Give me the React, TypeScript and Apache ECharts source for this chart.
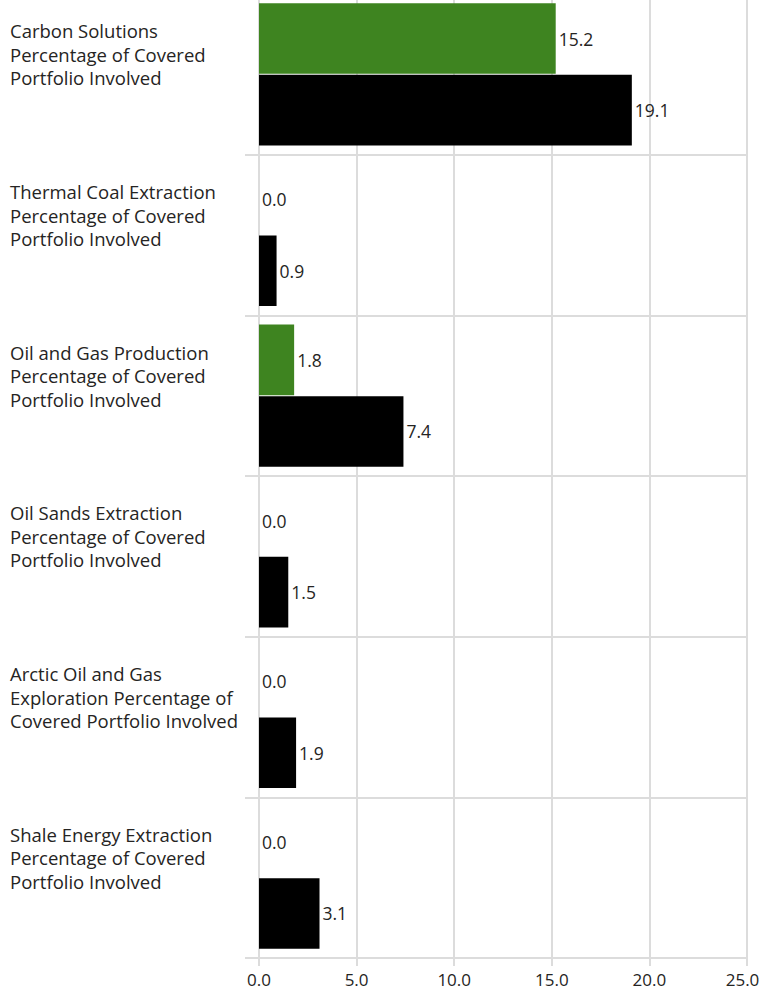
import React, { useEffect, useRef } from "react";
import * as echarts from "echarts";

const categories = [
  "Carbon Solutions\nPercentage of Covered\nPortfolio Involved",
  "Thermal Coal Extraction\nPercentage of Covered\nPortfolio Involved",
  "Oil and Gas Production\nPercentage of Covered\nPortfolio Involved",
  "Oil Sands Extraction\nPercentage of Covered\nPortfolio Involved",
  "Arctic Oil and Gas\nExploration Percentage of\nCovered Portfolio Involved",
  "Shale Energy Extraction\nPercentage of Covered\nPortfolio Involved",
];
const greenValues = [15.2, 0.0, 1.8, 0.0, 0.0, 0.0];
const blackValues = [19.1, 0.9, 7.4, 1.5, 1.9, 3.1];
const xMax = 25;

const FONT = "'Open Sans', 'Noto Sans', sans-serif";
const GRID = "#dcdcdc";
const TEXT = "#252423";

export default function App() {
  const ref = useRef<HTMLDivElement>(null);
  useEffect(() => {
    if (!ref.current) return;
    const chart = echarts.init(ref.current, null, { renderer: "svg" });
    const label = {
      show: true,
      position: "right" as const,
      distance: 3,
      color: TEXT,
      fontSize: 17.5,
      fontFamily: FONT,
      formatter: (p: any) => Number(p.value).toFixed(1),
    };
    chart.setOption({
      animation: false,
      grid: {
        left: 259,
        right: 14,
        top: 0,
        bottom: 35,
        containLabel: false,
        outerBoundsMode: "none",
      },
      xAxis: {
        type: "value",
        min: 0,
        max: xMax,
        interval: 5,
        axisLine: { show: false },
        axisTick: { show: true, length: 8, lineStyle: { color: GRID, width: 2 } },
        splitLine: { show: true, lineStyle: { color: GRID, width: 2 } },
        axisLabel: {
          color: TEXT,
          fontSize: 17,
          fontFamily: FONT,
          margin: 13,
          formatter: (v: number) =>
            v === xMax ? `{m|${v.toFixed(1)}}` : `{n|${v.toFixed(1)}}`,
          rich: {
            n: { fontSize: 17, fontFamily: FONT, color: TEXT },
            m: { fontSize: 17, fontFamily: FONT, color: TEXT, padding: [0, 9, 0, 0] },
          },
        },
      },
      yAxis: {
        type: "category",
        data: categories,
        inverse: true,
        axisLine: { show: true, lineStyle: { color: GRID, width: 2 } },
        axisTick: { show: true, length: 14, lineStyle: { color: GRID, width: 2 } },
        splitLine: { show: true, lineStyle: { color: GRID, width: 2 } },
        axisLabel: {
          align: "left",
          margin: 249,
          color: TEXT,
          fontFamily: FONT,
          formatter: (v: string) =>
            v
              .split("\n")
              .map((l) => `{t|${l}}`)
              .join("\n") + "\n{s|\u00a0}",
          rich: {
            t: { fontSize: 18.5, lineHeight: 23.5, color: TEXT, fontFamily: FONT },
            s: { fontSize: 10, lineHeight: 40, height: 40 },
          },
        },
      },
      series: [
        {
          type: "bar",
          data: greenValues,
          itemStyle: { color: "#3E8420" },
          barCategoryGap: "11.5%",
          barGap: "1.5%",
          label,
        },
        {
          type: "bar",
          data: blackValues,
          itemStyle: { color: "#000000" },
          barCategoryGap: "11.5%",
          barGap: "1.5%",
          label,
        },
      ],
    });
    return () => chart.dispose();
  }, []);
  return (
    <div style={{ position: "absolute", left: 0, top: 0, width: 761, height: 993, overflow: "hidden" }}>
      <div
        ref={ref}
        style={{ position: "absolute", left: 0, top: -6, width: 761, height: 999 }}
      />
    </div>
  );
}
